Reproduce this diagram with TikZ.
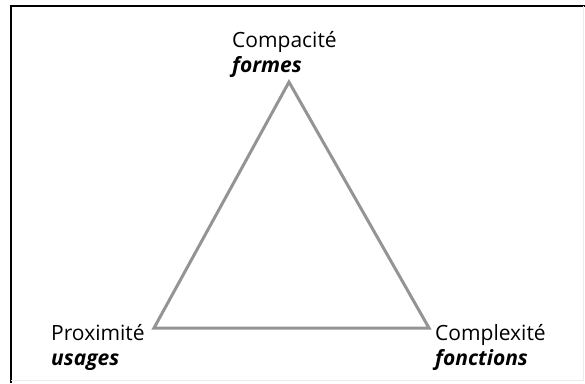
\documentclass[tikz,border=0pt]{standalone}
\usepackage{fontspec}
\setmainfont{Open Sans}
\usetikzlibrary{positioning}

\begin{document}
\begin{tikzpicture}[x=1pt, y=-1pt]

\tikzstyle{label}=[inner sep=0pt, align=left, anchor=base west, font=\fontsize{21}{25}\selectfont]
\tikzstyle{side}=[draw=black!42, line width=3pt, line join=miter]

\useasboundingbox (0,0) rectangle (585,383);

% frame
\draw[line width=2pt] (10.5,383) -- (10.5,5.5) -- (585,5.5);
\draw[black!8, line width=1pt] (10.5,380.5) -- (583,380.5) -- (583,5.5);

% corners
\coordinate (top) at (289,82);
\coordinate (left) at (154,328);
\coordinate (right) at (429,328);

\draw[side] (top) -- (left) -- (right) -- cycle;

% labels (anchored on the baseline of the second line)
\node (compacite) [label] at (232,72) {Compacité\\\textbf{\textit{formes}}};
\node (proximite) [label] at (51,365) {Proximité\\\textbf{\textit{usages}}};
\node (complexite) [label] at (435,365) {Complexité\\\textbf{\textit{fonctions}}};

\end{tikzpicture}
\end{document}
